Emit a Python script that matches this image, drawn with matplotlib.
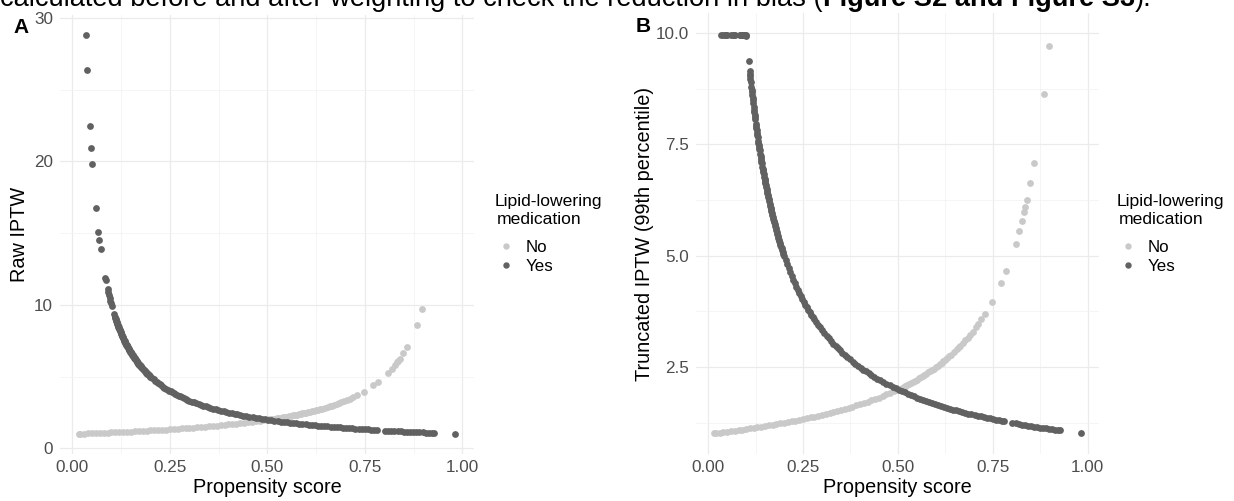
import matplotlib
matplotlib.use('Agg')
import matplotlib.pyplot as plt
from matplotlib.lines import Line2D
from matplotlib.ticker import FixedLocator

plt.rcParams['font.family'] = ['Liberation Sans', 'DejaVu Sans']

# ---------------- data ----------------
# Treated ("Yes") : propensity score and weights
yes_ps_high = [0.0347, 0.0379, 0.0444, 0.0477, 0.0505, 0.0597, 0.0664, 0.0690, 0.0719,
               0.0840, 0.0851, 0.0901, 0.0917, 0.0935, 0.0952, 0.0971, 0.0990]
yes_w_high = [28.8, 26.4, 22.5, 20.96, 19.8, 16.75, 15.07, 14.5, 13.9,
              11.9, 11.75, 11.1, 10.9, 10.7, 10.5, 10.3, 10.1]
yes_w_high_trunc = [9.96, 9.96, 9.96, 9.96, 9.96, 9.96, 9.96, 9.96, 9.96,
                    9.96, 9.96, 9.96, 9.96, 9.96, 9.96, 9.96, 9.96]

yes_ps_rest = [0.1007, 0.1068, 0.1092, 0.1100, 0.1108, 0.1116, 0.1124, 0.1138, 0.1146, 0.1154,
               0.1162, 0.1170, 0.1178, 0.1186, 0.1200, 0.1208, 0.1216, 0.1224, 0.1232, 0.1240,
               0.1256, 0.1264, 0.1272, 0.1280, 0.1288, 0.1296, 0.1304, 0.1318, 0.1326, 0.1334,
               0.1342, 0.1350, 0.1358, 0.1374, 0.1382, 0.1390, 0.1398, 0.1406, 0.1414, 0.1430,
               0.1438, 0.1446, 0.1454, 0.1462, 0.1478, 0.1486, 0.1494, 0.1502, 0.1510, 0.1520,
               0.1530, 0.1540, 0.1550, 0.1560, 0.1572, 0.1584, 0.1596, 0.1608, 0.1620, 0.1632,
               0.1644, 0.1656, 0.1668, 0.1680, 0.1692, 0.1704, 0.1716, 0.1728, 0.1740, 0.1752,
               0.1766, 0.1780, 0.1794, 0.1808, 0.1822, 0.1836, 0.1850, 0.1864, 0.1878, 0.1892,
               0.1906, 0.1920, 0.1936, 0.1952, 0.1968, 0.1984, 0.2000,
               0.204, 0.208, 0.212, 0.216, 0.220, 0.224, 0.228, 0.232, 0.236, 0.240,
               0.244, 0.248, 0.252, 0.256, 0.260, 0.264, 0.268, 0.272, 0.276, 0.280,
               0.285, 0.290, 0.295, 0.300,
               0.306, 0.312, 0.318, 0.324, 0.330, 0.336, 0.342, 0.348, 0.354, 0.360,
               0.367, 0.374, 0.381, 0.388, 0.395, 0.402, 0.409, 0.416, 0.423, 0.430,
               0.438, 0.446, 0.454, 0.462, 0.470, 0.478, 0.486, 0.494, 0.502,
               0.510, 0.518, 0.526, 0.534, 0.542, 0.550, 0.558, 0.566, 0.574, 0.582,
               0.590, 0.598, 0.606, 0.614, 0.622, 0.630, 0.638, 0.646, 0.654, 0.662,
               0.670, 0.678, 0.686, 0.694, 0.702, 0.710, 0.718, 0.726, 0.734, 0.742,
               0.750, 0.758, 0.766, 0.774, 0.780,
               0.802, 0.810, 0.818, 0.826, 0.834, 0.842, 0.850, 0.858, 0.866, 0.874,
               0.882, 0.890, 0.898, 0.906, 0.914, 0.922, 0.928,
               0.982]
yes_w_rest = [9.930, 9.363, 9.158, 9.091, 9.025, 8.961, 8.897, 8.787, 8.726, 8.666,
              8.606, 8.547, 8.489, 8.432, 8.333, 8.278, 8.224, 8.170, 8.117, 8.065,
              7.962, 7.911, 7.862, 7.813, 7.764, 7.716, 7.669, 7.587, 7.541, 7.496,
              7.452, 7.407, 7.364, 7.278, 7.236, 7.194, 7.153, 7.112, 7.072, 6.993,
              6.954, 6.916, 6.878, 6.840, 6.766, 6.729, 6.693, 6.658, 6.623, 6.579,
              6.536, 6.494, 6.452, 6.410, 6.361, 6.313, 6.266, 6.219, 6.173, 6.127,
              6.083, 6.039, 5.995, 5.952, 5.910, 5.869, 5.828, 5.787, 5.747, 5.708,
              5.663, 5.618, 5.574, 5.531, 5.488, 5.447, 5.405, 5.365, 5.325, 5.285,
              5.247, 5.208, 5.165, 5.123, 5.081, 5.040, 5.000,
              4.902, 4.808, 4.717, 4.630, 4.545, 4.464, 4.386, 4.310, 4.237, 4.167,
              4.098, 4.032, 3.968, 3.906, 3.846, 3.788, 3.731, 3.676, 3.623, 3.571,
              3.509, 3.448, 3.390, 3.333,
              3.268, 3.205, 3.145, 3.086, 3.030, 2.976, 2.924, 2.874, 2.825, 2.778,
              2.725, 2.674, 2.625, 2.577, 2.532, 2.488, 2.445, 2.404, 2.364, 2.326,
              2.283, 2.242, 2.203, 2.165, 2.128, 2.092, 2.058, 2.024, 1.992,
              1.961, 1.931, 1.901, 1.873, 1.845, 1.818, 1.792, 1.767, 1.742, 1.718,
              1.695, 1.672, 1.650, 1.629, 1.608, 1.587, 1.567, 1.548, 1.529, 1.511,
              1.493, 1.475, 1.458, 1.441, 1.425, 1.408, 1.393, 1.377, 1.362, 1.348,
              1.333, 1.319, 1.305, 1.292, 1.282,
              1.247, 1.235, 1.222, 1.211, 1.199, 1.188, 1.176, 1.166, 1.155, 1.144,
              1.134, 1.124, 1.114, 1.104, 1.094, 1.085, 1.078,
              1.018]

# Untreated ("No"): propensity score and weights (none reach the truncation cap)
no_ps = [0.016, 0.02, 0.03, 0.04, 0.05, 0.06, 0.07, 0.08, 0.09, 0.10,
         0.11, 0.12, 0.13, 0.14, 0.15, 0.16, 0.17, 0.18, 0.19, 0.20,
         0.21, 0.22, 0.23, 0.24, 0.25, 0.26, 0.27, 0.28, 0.29, 0.30,
         0.31, 0.32, 0.33, 0.34, 0.35, 0.36, 0.37, 0.38, 0.39, 0.40,
         0.41, 0.42, 0.43, 0.44, 0.45, 0.46, 0.47, 0.48, 0.49, 0.50,
         0.505, 0.51, 0.515, 0.52, 0.525, 0.53, 0.535, 0.54, 0.545, 0.55,
         0.555, 0.56, 0.565, 0.57, 0.575, 0.58, 0.585, 0.59, 0.595, 0.60,
         0.605, 0.61, 0.615, 0.62, 0.625, 0.63, 0.635, 0.64, 0.648, 0.655,
         0.66, 0.665, 0.672, 0.678, 0.684, 0.69, 0.697, 0.705, 0.712, 0.72,
         0.730, 0.747, 0.772, 0.785, 0.810, 0.820, 0.827, 0.833, 0.836, 0.840,
         0.849, 0.859, 0.884, 0.897]
no_w = [1.016, 1.020, 1.031, 1.042, 1.053, 1.064, 1.075, 1.087, 1.099, 1.111,
        1.124, 1.136, 1.149, 1.163, 1.176, 1.190, 1.205, 1.220, 1.235, 1.250,
        1.266, 1.282, 1.299, 1.316, 1.333, 1.351, 1.370, 1.389, 1.408, 1.429,
        1.449, 1.471, 1.493, 1.515, 1.538, 1.563, 1.587, 1.613, 1.639, 1.667,
        1.695, 1.724, 1.754, 1.786, 1.818, 1.852, 1.887, 1.923, 1.961, 2.000,
        2.020, 2.041, 2.062, 2.083, 2.105, 2.128, 2.151, 2.174, 2.198, 2.222,
        2.247, 2.273, 2.299, 2.326, 2.353, 2.381, 2.410, 2.439, 2.469, 2.500,
        2.532, 2.564, 2.597, 2.632, 2.667, 2.703, 2.740, 2.778, 2.841, 2.899,
        2.941, 2.985, 3.049, 3.106, 3.165, 3.226, 3.300, 3.390, 3.472, 3.571,
        3.704, 3.953, 4.386, 4.651, 5.263, 5.556, 5.780, 5.988, 6.098, 6.250,
        6.623, 7.092, 8.621, 9.709]

x_ticks = [0.0, 0.25, 0.5, 0.75, 1.0]
x_tick_labels = ["0.00", "0.25", "0.50", "0.75", "1.00"]
yA_ticks = [0, 10, 20, 30]
yA_tick_labels = ["0", "10", "20", "30"]
yB_ticks = [2.5, 5.0, 7.5, 10.0]
yB_tick_labels = ["2.5", "5.0", "7.5", "10.0"]
legend_labels = ["No", "Yes"]
legend_title_lines = ["Lipid-lowering", "medication"]

col_no = '#C9C9C9'
col_yes = '#616161'
tick_col = '#4D4D4D'

W, H = 1234, 501
fig = plt.figure(figsize=(W / 100, H / 100), dpi=100)


def fx(px):
    return px / W


def fy(py):
    return 1 - py / H


axA = fig.add_axes([fx(60), fy(454), fx(474) - fx(60), fy(15) - fy(454)])
axB = fig.add_axes([fx(696), fy(454), fx(1099) - fx(696), fy(13) - fy(454)])


def style(ax, ylim, yticks, ylabels, yminor):
    ax.set_xlim(-0.032, 1.030)
    ax.set_ylim(*ylim)
    for s in ax.spines.values():
        s.set_visible(False)
    ax.set_xticks(x_ticks)
    ax.set_xticklabels(x_tick_labels)
    ax.set_yticks(yticks)
    ax.set_yticklabels(ylabels)
    ax.xaxis.set_minor_locator(FixedLocator([0.125, 0.375, 0.625, 0.875]))
    ax.yaxis.set_minor_locator(FixedLocator(yminor))
    ax.grid(which='major', color='#EBEBEB', lw=0.9)
    ax.grid(which='minor', color='#F2F2F2', lw=0.55)
    ax.set_axisbelow(True)
    ax.tick_params(which='both', length=0, labelsize=12.3, labelcolor=tick_col)
    ax.tick_params(axis='x', pad=4.5)
    ax.tick_params(axis='y', pad=5)


style(axA, (-0.39, 30.2), yA_ticks, yA_tick_labels, [5, 15, 25])
style(axB, (0.55, 10.45), yB_ticks, yB_tick_labels, [1.25, 3.75, 6.25, 8.75])

ms = 24
yes_ps = yes_ps_high + yes_ps_rest
yes_w_raw = yes_w_high + yes_w_rest
yes_w_trunc = yes_w_high_trunc + yes_w_rest

axA.scatter(no_ps, no_w, s=ms, c=col_no, linewidths=0, zorder=2)
axA.scatter(yes_ps, yes_w_raw, s=ms, c=col_yes, linewidths=0, zorder=3)
axB.scatter(no_ps, no_w, s=ms, c=col_no, linewidths=0, zorder=2)
axB.scatter(yes_ps, yes_w_trunc, s=ms, c=col_yes, linewidths=0, zorder=3)

axA.set_xlabel("Propensity score", fontsize=14.3, labelpad=2)
axB.set_xlabel("Propensity score", fontsize=14.3, labelpad=2)
axA.set_ylabel("Raw IPTW", fontsize=14.3, labelpad=3.5)
axB.set_ylabel("Truncated IPTW (99th percentile)", fontsize=14.3, labelpad=1)

handles = [Line2D([], [], ls='none', marker='o', ms=4.6, mfc=col_no, mec='none'),
           Line2D([], [], ls='none', marker='o', ms=4.6, mfc=col_yes, mec='none')]
for ax, lx in ((axA, 495), (axB, 1117)):
    fig.text(fx(lx), fy(206), legend_title_lines[0], fontsize=12.6, va='baseline')
    fig.text(fx(lx + 2), fy(224), legend_title_lines[1], fontsize=12.6, va='baseline')
    ax.legend(handles, legend_labels, loc='center left',
              bbox_to_anchor=(fx(lx), fy(257)), bbox_transform=fig.transFigure,
              frameon=False, borderpad=0, borderaxespad=0, handlelength=1.25,
              handletextpad=0.55, labelspacing=0.25, fontsize=12.2,
              alignment='left')

fig.text(fx(13), fy(33), "A", fontsize=15, fontweight='bold', va='baseline')
fig.text(fx(636), fy(32), "B", fontsize=15, fontweight='bold', va='baseline')

# cropped caption line at the very top
renderer = fig.canvas.get_renderer()
cap_fs = 19.6
t1 = fig.text(fx(0), fy(6), "calculated before and after weighting to check the reduction in bias (",
              fontsize=cap_fs, va='baseline')
x1 = t1.get_window_extent(renderer).x1
t2 = fig.text(x1 / W, fy(6), "Figure S2 and Figure S3", fontsize=cap_fs, fontweight='bold',
              va='baseline')
x2 = t2.get_window_extent(renderer).x1
fig.text(x2 / W, fy(6), ").", fontsize=cap_fs, va='baseline')

fig.savefig("out.png", dpi=100)
